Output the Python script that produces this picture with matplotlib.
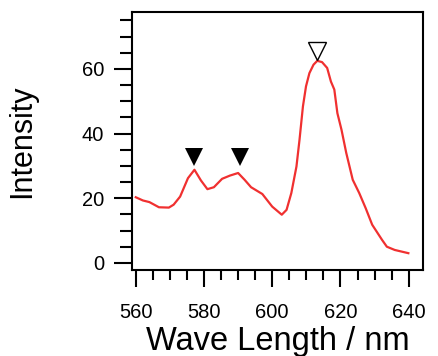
import matplotlib
matplotlib.use("Agg")
import matplotlib.pyplot as plt
from matplotlib.ticker import MultipleLocator

plt.rcParams["font.family"] = ["Liberation Sans", "DejaVu Sans"]

# spectrum
wl = [560, 562.1, 564, 566.8, 569.7, 571.1, 573, 575.3, 577.2, 579.1, 581,
      582.9, 585.3, 587.6, 590, 591.9, 593.8, 597.1, 600, 602.8, 604.2,
      605.6, 607.1, 608.0, 609.0, 609.9, 610.9, 612.1, 613.2, 614.6, 616.1,
      617.2, 618.2, 619.1, 620.3, 621.7, 623.6, 625.5, 627.4, 629.3, 632.2,
      633.6, 635.9, 639.9]
inten = [20.3, 19.3, 18.8, 17.2, 17.1, 18.0, 20.5, 26.2, 28.8, 25.5, 22.8,
         23.4, 26.0, 27.0, 27.8, 25.7, 23.4, 21.3, 17.4, 14.9, 16.4,
         21.6, 29.8, 38.1, 48.4, 54.6, 58.7, 61.3, 62.5, 62.1, 60.3,
         56.1, 53.6, 46.3, 41.2, 34.0, 25.7, 21.6, 16.9, 11.8, 7.1,
         5.0, 4.0, 3.0]

filled_x = [577, 590.5]
filled_y = [32.8, 32.8]
open_x = [613.2]
open_y = [65.4]

fig = plt.figure(figsize=(4.38, 3.56), dpi=100)
ax = fig.add_axes([0.3014, 0.2416, 0.6644, 0.7247])

ax.plot(wl, inten, color="#f03030", lw=1.6)
ax.plot(filled_x, filled_y, "v", color="black", ms=13, mew=0)
ax.plot(open_x, open_y, "v", mfc="white", mec="black", ms=13, mew=1.0)

ax.set_xlim(558.9, 644.2)
ax.set_ylim(-2.2, 77.6)
ax.xaxis.set_major_locator(MultipleLocator(20))
ax.xaxis.set_minor_locator(MultipleLocator(5))
ax.yaxis.set_major_locator(MultipleLocator(20))
ax.yaxis.set_minor_locator(MultipleLocator(5))

for s in ax.spines.values():
    s.set_linewidth(1.5)
ax.tick_params(which="both", direction="out", width=1.5, labelsize=14.5)
ax.tick_params(axis="y", which="major", length=13, pad=7)
ax.tick_params(axis="y", which="minor", length=8.5)
ax.tick_params(axis="x", which="major", length=12, pad=12)
ax.tick_params(axis="x", which="minor", length=7)

ax.set_xlabel("Wave Length / nm", fontsize=23.5, labelpad=3)
ax.set_ylabel("Intensity", fontsize=22, labelpad=32)

fig.savefig("out.png", dpi=100)
